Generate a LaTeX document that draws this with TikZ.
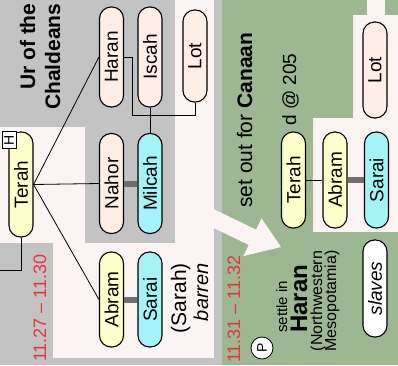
\documentclass[tikz,border=0pt]{standalone}
\usepackage{fontspec}
\setmainfont{Liberation Sans}
\usepackage{graphicx}
\usetikzlibrary{calc}

\definecolor{urgray}{HTML}{C3C3C3}
\definecolor{pinkbg}{HTML}{FCF3F3}
\definecolor{sage}{HTML}{9CB792}
\definecolor{yelnode}{HTML}{FFFFCC}
\definecolor{peachnode}{HTML}{FFEEE6}
\definecolor{cyannode}{HTML}{A3F3F8}
\definecolor{barcol}{HTML}{6E6E6E}
\definecolor{refred}{HTML}{E8333F}

\tikzset{
  person/.style={draw, line width=1.1pt, rounded corners=11.5pt, minimum width=24pt,
    minimum height=100pt, inner sep=0pt, font=\fontsize{19}{19}\selectfont},
  man/.style={person, fill=yelnode},
  kin/.style={person, fill=peachnode},
  wife/.style={person, fill=cyannode},
  wed/.style={barcol, line width=6pt},
  kid/.style={black, line width=0.8pt},
  upright/.style={rotate=90, inner sep=0pt, anchor=base west},
  tagbox/.style={draw, fill=white, line width=0.8pt, inner sep=0pt, font=\fontsize{14}{14}\selectfont},
}
\newcommand{\vtext}[1]{\rotatebox{90}{#1}}

\begin{document}
\begin{tikzpicture}[x=1pt, y=-1pt]
  \useasboundingbox (0,0) rectangle (398,365);

  % panels
  \fill[urgray] (0,0) rectangle (398,365);
  \fill[pinkbg] (0,127) rectangle (85,243);
  \fill[pinkbg] (53,243) rectangle (214,358);
  \fill[pinkbg] (175,0) rectangle (214,358);
  \fill[sage] (222,0) rectangle (398,365);
  \fill[pinkbg] (367,0) rectangle (385,15);
  \fill[pinkbg] (353,15) rectangle (398,118);
  \fill[pinkbg] (313,118) rectangle (398,232);

  % move to Haran
  \fill[pinkbg] (201.7,203.4) -- (256.1,229.6) -- (261.5,218.3) -- (281,247)
    -- (243.3,256.1) -- (248.7,244.9) -- (194.3,218.7) -- cycle;

  % Ur of the Chaldeans
  \node[upright, font=\fontsize{21}{21}\selectfont\bfseries] (urline) at (35,90) {Ur of the};
  \node[upright, font=\fontsize{21}{21}\selectfont\bfseries] (chald) at (60,110) {Chaldeans};
  \node[upright, text=refred, font=\fontsize{18}{18}\selectfont] (dateur) at (46,362) {11.27 – 11.30};

  \node[man, minimum height=105pt] (terahL) at (21,184.5) {\vtext{Terah}};
  \node[tagbox, minimum width=14pt, minimum height=17pt] (hmark) at (9,140) {\vtext{H}};

  \node[kin] (haran) at (111.5,57) {\vtext{Haran}};
  \node[kin] (iscah) at (150,57) {\vtext{Iscah}};
  \node[kin, minimum height=92pt] (lotA) at (195,56) {\vtext{Lot}};
  \node[kin] (nahor) at (111.5,183.5) {\vtext{Nahor}};
  \node[wife] (milcah) at (150,183.5) {\vtext{Milcah}};
  \node[man, minimum height=95pt] (abramL) at (111.5,299.5) {\vtext{Abram}};
  \node[wife, minimum height=95pt] (saraiL) at (150,299.5) {\vtext{Sarai}};

  \node[rotate=90, inner sep=0pt, anchor=base east, font=\fontsize{21}{21}\selectfont] (sarah) at (186,263) {(Sarah)};
  \node[rotate=90, inner sep=0pt, anchor=base east, font=\fontsize{20}{20}\selectfont\itshape] (barren) at (208,263) {barren};

  \coordinate (offleft) at (0,270);
  \coordinate (hknee) at (132,115);
  \draw[kid] (terahL.south) |- (offleft);
  \draw[kid] (terahL.east) -- (haran.west);
  \draw[kid] (terahL.east) -- (nahor.west);
  \draw[kid] (terahL.east) -- (abramL.west);
  \draw[kid] (haran.east) -| (hknee) -| (lotA.south);
  \draw[kid] (iscah.south) -- (milcah.north);
  \draw[wed] (nahor.east) -- (milcah.west);
  \draw[wed] (abramL.east) -- (saraiL.west);

  % Haran
  \node[upright, font=\fontsize{21}{21}\selectfont] (setout) at (252,208) {set out for \textbf{Canaan}};
  \node[upright, font=\fontsize{19}{19}\selectfont] (death) at (296,126) {d @ 205};
  \node[upright, text=refred, font=\fontsize{18}{18}\selectfont] (dateharan) at (240,363) {11.31 – 11.32};
  \node[tagbox, circle, minimum width=22pt, minimum height=22pt] (pmark) at (262,348) {\vtext{P}};
  \node[upright, font=\fontsize{15}{15}\selectfont] (settle) at (287,333) {settle in};
  \node[upright, font=\fontsize{24}{24}\selectfont\bfseries] (haranplace) at (307,333) {Haran};
  \node[rotate=90, inner sep=0pt, anchor=base, font=\fontsize{16}{16}\selectfont] (nw) at (322,301) {(Northwestern};
  \node[rotate=90, inner sep=0pt, anchor=base, font=\fontsize{16}{16}\selectfont] (meso) at (336,301) {Mesopotamia)};

  \node[man, minimum height=96pt] (terahR) at (293.5,180) {\vtext{Terah}};
  \node[man, minimum height=96pt] (abramR) at (335,180) {\vtext{Abram}};
  \node[wife, minimum height=96pt] (saraiR) at (376.5,180) {\vtext{Sarai}};
  \node[kin, minimum height=96pt] (lotB) at (375,70) {\vtext{Lot}};
  \node[person, fill=white, minimum height=97pt] (slaves) at (375,288.5) {\vtext{\itshape slaves}};

  \draw[kid] (terahR.east) -- (abramR.west);
  \draw[wed] (abramR.east) -- (saraiR.west);
\end{tikzpicture}
\end{document}
